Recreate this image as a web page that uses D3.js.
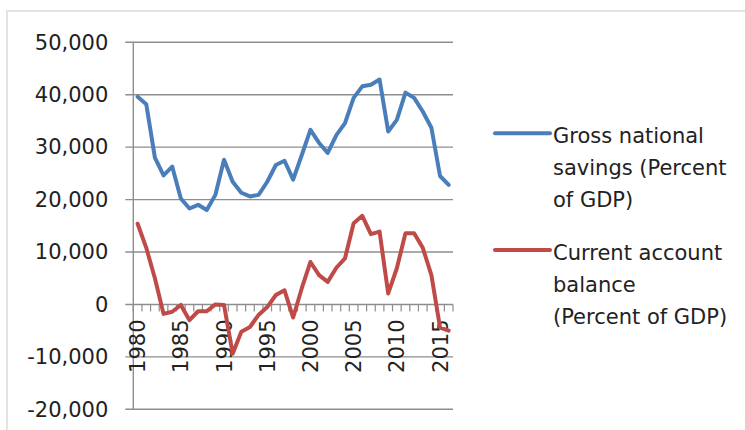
<!DOCTYPE html>
<html>
<head>
<meta charset="utf-8">
<script src="https://cdn.jsdelivr.net/npm/d3@7"></script>
<style>
  body { margin: 0; background: #fff; }
  text { font-family: "DejaVu Sans", sans-serif; fill: #222; }
</style>
</head>
<body>
<div id="chart"></div>
<script>
// years on the category axis
var years = [1980, 1981, 1982, 1983, 1984, 1985, 1986, 1987, 1988, 1989,
             1990, 1991, 1992, 1993, 1994, 1995, 1996, 1997, 1998, 1999,
             2000, 2001, 2002, 2003, 2004, 2005, 2006, 2007, 2008, 2009,
             2010, 2011, 2012, 2013, 2014, 2015, 2016];

var savings = [39600, 38200, 28000, 24600, 26300, 20200, 18300, 19000, 18000, 20900,
               27600, 23400, 21300, 20600, 20900, 23400, 26600, 27400, 23800, 28500,
               33300, 30800, 28900, 32300, 34600, 39400, 41600, 41900, 42900, 33000,
               35200, 40400, 39400, 36800, 33700, 24500, 22800];

var balance = [15400, 10800, 5000, -1800, -1400, -100, -3000, -1300, -1300, 0,
               -100, -9400, -5200, -4300, -2000, -500, 1800, 2700, -2500, 3100,
               8100, 5600, 4300, 7000, 8800, 15500, 16900, 13400, 13900, 2100,
               6900, 13600, 13600, 10800, 5600, -4400, -5000];

var yTicks = [-20000, -10000, 0, 10000, 20000, 30000, 40000, 50000];
var xLabels = [1980, 1985, 1990, 1995, 2000, 2005, 2010, 2015];

var seriesNames = [
  ["Gross national", "savings (Percent", "of GDP)"],
  ["Current account", "balance", "(Percent of GDP)"]
];
var seriesColors = ["#4A7EBB", "#BE4B48"];

var W = 745, H = 430;
var plotLeft = 133.3, plotRight = 453, plotTop = 42.3, plotBottom = 409.3;

var svg = d3.select("#chart")
  .append("svg")
  .attr("width", W)
  .attr("height", H);

// faint outer frame of the chart object
svg.append("rect")
  .attr("x", 7).attr("y", 11)
  .attr("width", 800).attr("height", 500)
  .attr("fill", "none")
  .attr("stroke", "#e3e3e3")
  .attr("stroke-width", 2);

var x = d3.scaleBand()
  .domain(years)
  .range([plotLeft, plotRight])
  .padding(0);

var y = d3.scaleLinear()
  .domain([-20000, 50000])
  .range([plotBottom, plotTop]);

// horizontal gridlines
svg.append("g")
  .selectAll("line")
  .data(yTicks)
  .enter().append("line")
  .attr("x1", plotLeft - 8)
  .attr("x2", plotRight)
  .attr("y1", function(d) { return y(d); })
  .attr("y2", function(d) { return y(d); })
  .attr("stroke", "#8e8e8e")
  .attr("stroke-width", 1.4);

// y axis labels (plain hyphen for negatives, like the original)
var fmt = d3.format(",");
var yAxis = d3.axisLeft(y)
  .tickValues(yTicks)
  .tickSize(0)
  .tickPadding(25)
  .tickFormat(function(d) { return fmt(d).replace("\u2212", "-"); });

var gy = svg.append("g")
  .attr("transform", "translate(" + plotLeft + ",0)")
  .call(yAxis);
gy.select(".domain").remove();
gy.selectAll("text")
  .attr("font-size", 21)
  .attr("font-family", "DejaVu Sans")
  .attr("fill", "#222");

// vertical axis line
svg.append("line")
  .attr("x1", plotLeft).attr("x2", plotLeft)
  .attr("y1", plotTop).attr("y2", plotBottom)
  .attr("stroke", "#8e8e8e")
  .attr("stroke-width", 1.4);

// category tick marks hanging below the zero line
var bounds = years.map(function(d) { return x(d); }).concat([plotRight]);
svg.append("g")
  .selectAll("line")
  .data(bounds)
  .enter().append("line")
  .attr("x1", function(d) { return d; })
  .attr("x2", function(d) { return d; })
  .attr("y1", y(0))
  .attr("y2", y(0) + 7)
  .attr("stroke", "#8e8e8e")
  .attr("stroke-width", 1.2);

// x labels, rotated
svg.append("g")
  .selectAll("text")
  .data(xLabels)
  .enter().append("text")
  .attr("transform", function(d) {
    return "translate(" + (x(d) + x.bandwidth() / 2) + "," + (y(0) + 15) + ") rotate(-90)";
  })
  .attr("text-anchor", "end")
  .attr("dy", "0.36em")
  .attr("font-size", 21)
  .text(function(d) { return d; });

var line = d3.line()
  .x(function(d, i) { return x(years[i]) + x.bandwidth() / 2; })
  .y(function(d) { return y(d); });

[savings, balance].forEach(function(s, i) {
  svg.append("path")
    .datum(s)
    .attr("fill", "none")
    .attr("stroke", seriesColors[i])
    .attr("stroke-width", 4)
    .attr("stroke-linejoin", "round")
    .attr("stroke-linecap", "round")
    .attr("d", line);
});

// legend
var legendY = [133.3, 250];
seriesNames.forEach(function(lines, i) {
  var g = svg.append("g");
  g.append("line")
    .attr("x1", 495).attr("x2", 550)
    .attr("y1", legendY[i]).attr("y2", legendY[i])
    .attr("stroke", seriesColors[i])
    .attr("stroke-width", 4)
    .attr("stroke-linecap", "round");
  g.selectAll("text")
    .data(lines)
    .enter().append("text")
    .attr("x", 553)
    .attr("y", function(d, j) { return legendY[i] + 10 + j * 32; })
    .attr("font-size", 21)
    .text(function(d) { return d; });
});
</script>
</body>
</html>
